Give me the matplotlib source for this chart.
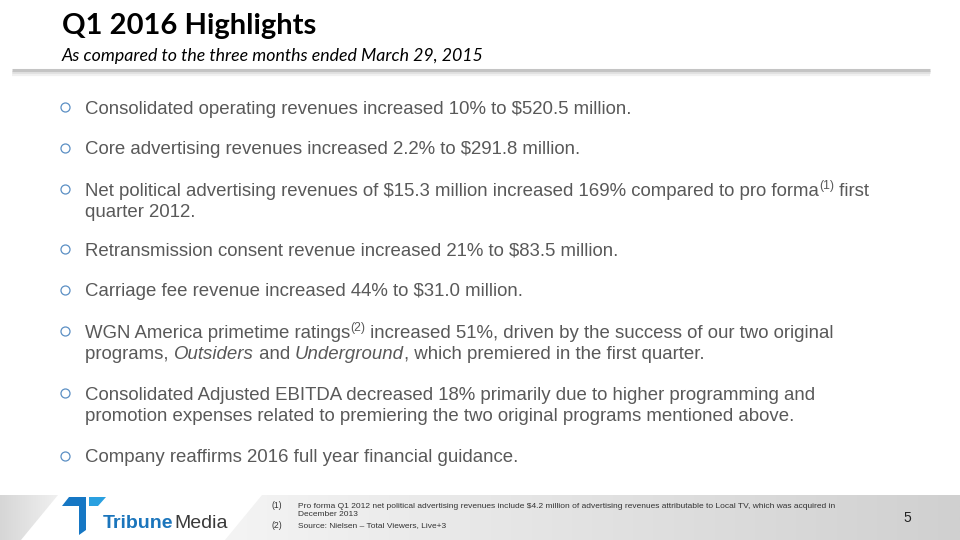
import numpy as np
import matplotlib.pyplot as plt
from matplotlib.patches import Polygon
from matplotlib.colors import LinearSegmentedColormap

# slide text
title = 'Q1 2016 Highlights'
subtitle = 'As compared to the three months ended March 29, 2015'

# each bullet is a list of lines, each line a list of (text, style)
# style: n = normal, s = superscript, i = italic; a leading space is kept as a gap
bullets = [
    [[('Consolidated operating revenues increased 10% to $520.5 million.', 'n')]],
    [[('Core advertising revenues increased 2.2% to $291.8 million.', 'n')]],
    [[('Net political advertising revenues of $15.3 million increased 169% compared to pro forma', 'n'),
      ('(1)', 's'), (' first', 'n')],
     [('quarter 2012.', 'n')]],
    [[('Retransmission consent revenue increased 21% to $83.5 million.', 'n')]],
    [[('Carriage fee revenue increased 44% to $31.0 million.', 'n')]],
    [[('WGN America primetime ratings', 'n'), ('(2)', 's'),
      (' increased 51%, driven by the success of our two original', 'n')],
     [('programs, ', 'n'), ('Outsiders', 'i'), (' and ', 'n'), ('Underground', 'i'),
      (', which premiered in the first quarter.', 'n')]],
    [[('Consolidated Adjusted EBITDA decreased 18% primarily due to higher programming and', 'n')],
     [('promotion expenses related to premiering the two original programs mentioned above.', 'n')]],
    [[('Company reaffirms 2016 full year financial guidance.', 'n')]],
]
bullet_y = [113.5, 154.5, 195.5, 255.5, 296.5, 337.5, 399.5, 462.5]
line_gap = 21.5

footnote_ids = ['(1)', '(2)']
footnote_lines = [
    ['Pro forma Q1 2012 net political advertising revenues include $4.2 million of advertising revenues attributable to Local TV, which was acquired in',
     'December 2013'],
    ['Source: Nielsen \u2013 Total Viewers, Live+3'],
]
page_no = '5'

TXT = '#595959'
BODY = 'Liberation Sans'

fig = plt.figure(figsize=(9.6, 5.4), dpi=100)
ax = fig.add_axes([0, 0, 1, 1])
ax.set_xlim(0, 960)
ax.set_ylim(540, 0)
ax.axis('off')
r = fig.canvas.get_renderer()


def width(s, **kw):
    # advance width of s, bracketed by bars so edge spaces count
    t = ax.text(0, 0, '|' + s + '|', **kw)
    w = t.get_window_extent(renderer=r).width
    t.remove()
    t = ax.text(0, 0, '||', **kw)
    w -= t.get_window_extent(renderer=r).width
    t.remove()
    return w


def put_runs(x, y, parts, size=13.4):
    for txt, st in parts:
        kw = dict(fontsize=size, color=TXT, family=BODY)
        dy = 0
        if st == 's':
            kw['fontsize'] = size * 0.66
            dy = -6
        if st == 'i':
            kw['style'] = 'italic'
        ax.text(x, y + dy, txt, va='baseline', ha='left', **kw)
        x += width(txt, **kw)


# title
ax.text(62, 34, title, fontsize=21, fontweight='bold', family='Lato', color='black', va='baseline')
ax.text(62, 60.5, subtitle, fontsize=12.8, style='italic', family='Lato', color='black', va='baseline')

# header rule with soft shadow
for dy, c, lw in [(3.5, '#f0f0f0', 3), (2, '#e0e0e0', 2), (0, '#c4c4c4', 2.2)]:
    ax.plot([12, 930], [70 + dy, 70 + dy], color=c, lw=lw, solid_capstyle='butt')

# bullets
for lines, y in zip(bullets, bullet_y):
    ax.plot(65, y - 6.5, 'o', ms=6.5, mfc='none', mec='#5b8fc4', mew=0.9)
    for k, parts in enumerate(lines):
        put_runs(85, y + k * line_gap, parts)

# footer band
left_poly = Polygon([(0, 495), (58, 495), (21, 540), (0, 540)], closed=True, fc='none', ec='none')
right_poly = Polygon([(262, 495), (960, 495), (960, 540), (225, 540)], closed=True, fc='none', ec='none')
ax.add_patch(left_poly)
ax.add_patch(right_poly)
grad = np.linspace(0, 1, 256).reshape(1, -1)
cm_l = LinearSegmentedColormap.from_list('l', ['#d6d6d6', '#f0f0f0'])
cm_r = LinearSegmentedColormap.from_list('r', ['#f4f4f4', '#d0d0d0'])
im = ax.imshow(grad, cmap=cm_l, extent=(0, 58, 540, 495), aspect='auto', zorder=0)
im.set_clip_path(left_poly)
im = ax.imshow(grad, cmap=cm_r, extent=(225, 960, 540, 495), aspect='auto', zorder=0)
im.set_clip_path(right_poly)
ax.set_xlim(0, 960)
ax.set_ylim(540, 0)

# logo
ax.add_patch(Polygon([(62, 506), (69, 497), (86, 497), (86, 530), (79, 535), (79, 506)],
                     closed=True, fc='#1677c4', ec='none'))
ax.add_patch(Polygon([(89, 497), (106, 497), (98, 506), (89, 506)],
                     closed=True, fc='#2aa0e0', ec='none'))
ax.text(103, 528, 'Tribune', fontsize=14, fontweight='bold', family=BODY, color='#1b75bc', va='baseline')
ax.text(103 + width('Tribune', fontsize=14, fontweight='bold', family=BODY) + 1, 528, 'Media',
        fontsize=14, family=BODY, color='#3a3a3a', va='baseline')

# footnotes
fy = [507.5, 516, 527.5]
k = 0
for fid, lines in zip(footnote_ids, footnote_lines):
    ax.text(272, fy[k], fid, fontsize=6.2, family=BODY, color='#333333', va='baseline')
    for ln in lines:
        ax.text(298, fy[k], ln, fontsize=6.0, family=BODY, color='#333333', va='baseline')
        k += 1

ax.text(907, 522, page_no, fontsize=10, family=BODY, color='#222222', va='baseline', ha='center')

fig.savefig('out.png', dpi=100)
